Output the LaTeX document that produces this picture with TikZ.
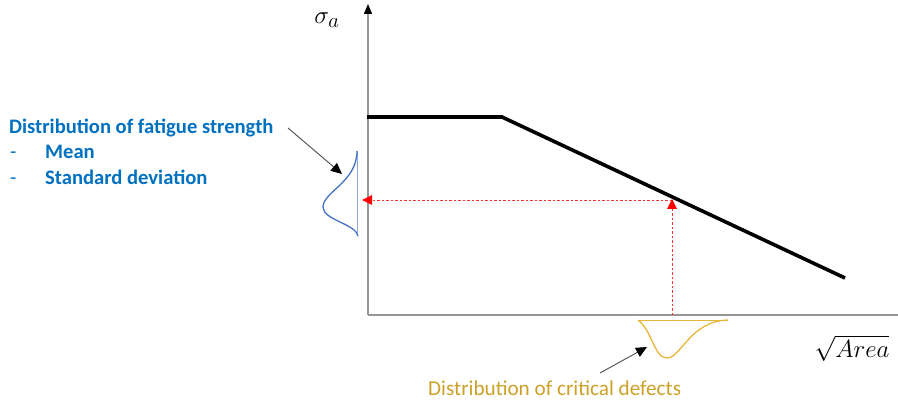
\documentclass[tikz,border=0pt]{standalone}
\usepackage{fontspec}
\setmainfont{Carlito}
\usetikzlibrary{arrows.meta}
\definecolor{tblue}{RGB}{0,112,192}
\definecolor{cblue}{RGB}{68,114,196}
\definecolor{lblue}{RGB}{143,170,220}
\definecolor{tgold}{RGB}{204,160,40}
\definecolor{cgold}{RGB}{232,182,60}
\definecolor{axgray}{RGB}{150,150,150}
\begin{document}
\begin{tikzpicture}[x=1pt,y=-1pt,
  axis/.style={draw=axgray,line width=1.4pt},
  curve/.style={draw=black,line width=3.6pt},
  guide/.style={draw=red!80,line width=0.7pt,dash pattern=on 2.5pt off 2pt},
  blab/.style={anchor=west,text=tblue,font=\bfseries\fontsize{20.6}{24}\selectfont,inner sep=0pt},
  pointer/.style={draw=black!65,line width=1pt,-{Triangle[length=11pt,width=10pt,color=black]}}]
\useasboundingbox (0,0) rectangle (898,401);
% axes
\coordinate (O) at (368,315);
\coordinate (ytop) at (368,4);
\coordinate (xend) at (898,315);
\draw[axis,-{Triangle[length=10pt,width=8pt,color=black]}] (O) -- (ytop);
\draw[axis] (O) -- (xend);
\node (ylab) at (327,20) {\fontsize{30}{32}\selectfont$\sigma_a$};
\node (xlab) at (852,348) {\fontsize{28}{30}\selectfont$\sqrt{Area}$};
% S-N like curve
\coordinate (c0) at (367,117);
\coordinate (c1) at (502,117);
\coordinate (c2) at (845,278);
\draw[curve,line join=miter] (c0) -- (c1) -- (c2);
% red guides
\coordinate (pb) at (672,315);
\coordinate (pt) at (672,199);
\coordinate (pl) at (362,200);
\draw[guide] (pb) -- (pt);
\draw[guide] (672,200) -- (pl);
\fill[red] (pt) -- ++(-5,10) -- ++(10,0) -- cycle;
\fill[red] (pl) -- ++(10,-5) -- ++(0,10) -- cycle;
% blue distribution
\draw[lblue,line width=0.8pt] (357,151) -- (357,236);
\draw[cblue,line width=1.3pt] (357,151) .. controls (357,182) and (323,192) .. (323,207)
  .. controls (323,220) and (356,224) .. (358,236);
% gold distribution
\draw[cgold,line width=0.9pt] (638,320) -- (728,320);
\draw[cgold,line width=1.3pt] (638,320) .. controls (652,330) and (654,358) .. (667,358)
  .. controls (681,358) and (690,321) .. (728,320);
% texts
\node[blab] (title) at (9,128) {Distribution of fatigue strength};
\node[blab] (mean) at (45,152) {Mean};
\node[blab] (std) at (45,177) {Standard deviation};
\coordinate (dx) at (10,0);
\node[blab,anchor=base west,font=\fontsize{20.6}{24}\selectfont] (d1) at (mean.base -| dx) {-};
\node[blab,anchor=base west,font=\fontsize{20.6}{24}\selectfont] (d2) at (std.base -| dx) {-};
\node[anchor=west,text=tgold,font=\fontsize{21.2}{24}\selectfont,inner sep=0pt] (gtxt) at (428,388) {Distribution of critical defects};
% pointers
\coordinate (ps) at (288,128);
\coordinate (bp) at (342,174);
\coordinate (gs) at (600,373);
\coordinate (gp) at (647,347);
\draw[pointer] (ps) -- (bp);
\draw[pointer] (gs) -- (gp);
\end{tikzpicture}
\end{document}
